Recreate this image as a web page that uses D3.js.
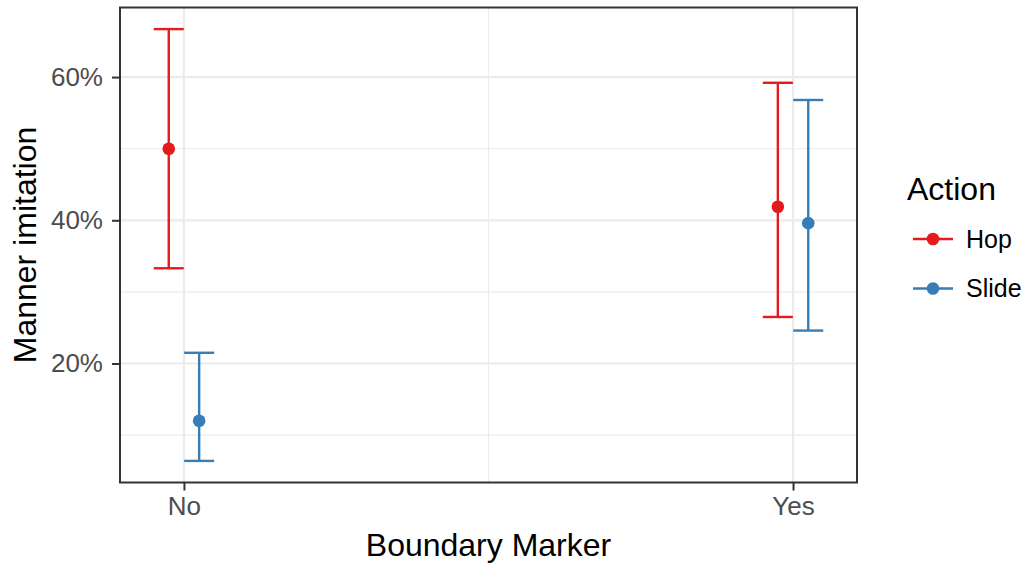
<!DOCTYPE html>
<html>
<head>
    <style>
        body { margin: 0; background: #fff; }
        text { font-family: "Liberation Sans", Helvetica, Arial, sans-serif; }
    </style>
    <script src="https://d3js.org/d3.v7.min.js"></script>
</head>
<body>
    <svg width="1028" height="564"></svg>
    <script>
        // data (percent)
        var markers = ["No", "Yes"];
        var actions = ["Hop", "Slide"];
        var meanHop = [50.0, 41.9];
        var meanSlide = [12.0, 39.6];
        var lowHop = [33.3, 26.5];
        var lowSlide = [6.4, 24.6];
        var highHop = [66.7, 59.2];
        var highSlide = [21.5, 56.8];
        var yTicks = [20, 40, 60];
        var yMinor = [10, 30, 50];
        var colors = ["#E41A1C", "#377EB8"];

        var rows = [];
        markers.forEach(function (m, i) {
            rows.push({ marker: m, action: "Hop", mean: meanHop[i], lo: lowHop[i], hi: highHop[i] });
            rows.push({ marker: m, action: "Slide", mean: meanSlide[i], lo: lowSlide[i], hi: highSlide[i] });
        });

        var panel = { left: 120, right: 857, top: 7.5, bottom: 482.5 };
        var svg = d3.select("svg");

        var x = d3.scalePoint().domain(markers).range([panel.left, panel.right]).padding(0.105);
        var dodge = d3.scalePoint().domain(actions).range([-15.2, 15.2]);
        var color = d3.scaleOrdinal().domain(actions).range(colors);

        var lo = d3.min(rows, function (d) { return d.lo; });
        var hi = d3.max(rows, function (d) { return d.hi; });
        var pad = (hi - lo) * 0.05;
        var y = d3.scaleLinear().domain([lo - pad, hi + pad]).range([panel.bottom, panel.top]);

        // grid
        var grid = svg.append("g");
        grid.selectAll(".minor").data(yMinor).enter().append("line")
            .attr("x1", panel.left).attr("x2", panel.right)
            .attr("y1", function (d) { return y(d); }).attr("y2", function (d) { return y(d); })
            .attr("stroke", "#EBEBEB").attr("stroke-width", 1.1);
        grid.append("line")
            .attr("x1", (x("No") + x("Yes")) / 2).attr("x2", (x("No") + x("Yes")) / 2)
            .attr("y1", panel.top).attr("y2", panel.bottom)
            .attr("stroke", "#EBEBEB").attr("stroke-width", 1.1);
        grid.selectAll(".major").data(yTicks).enter().append("line")
            .attr("x1", panel.left).attr("x2", panel.right)
            .attr("y1", function (d) { return y(d); }).attr("y2", function (d) { return y(d); })
            .attr("stroke", "#EBEBEB").attr("stroke-width", 2.2);
        grid.selectAll(".majorx").data(markers).enter().append("line")
            .attr("x1", function (d) { return x(d); }).attr("x2", function (d) { return x(d); })
            .attr("y1", panel.top).attr("y2", panel.bottom)
            .attr("stroke", "#EBEBEB").attr("stroke-width", 2.2);

        // error bars
        var bars = svg.append("g").selectAll("g").data(rows).enter().append("g")
            .attr("transform", function (d) { return "translate(" + (x(d.marker) + dodge(d.action)) + ",0)"; })
            .attr("stroke", function (d) { return color(d.action); })
            .attr("fill", function (d) { return color(d.action); });
        bars.append("line")
            .attr("y1", function (d) { return y(d.lo); }).attr("y2", function (d) { return y(d.hi); })
            .attr("stroke-width", 2.4);
        bars.append("line")
            .attr("x1", -15).attr("x2", 15)
            .attr("y1", function (d) { return y(d.lo); }).attr("y2", function (d) { return y(d.lo); })
            .attr("stroke-width", 2.4);
        bars.append("line")
            .attr("x1", -15).attr("x2", 15)
            .attr("y1", function (d) { return y(d.hi); }).attr("y2", function (d) { return y(d.hi); })
            .attr("stroke-width", 2.4);
        bars.append("circle")
            .attr("cy", function (d) { return y(d.mean); })
            .attr("r", 6.3).attr("stroke", "none");

        // panel border
        svg.append("rect")
            .attr("x", panel.left).attr("y", panel.top)
            .attr("width", panel.right - panel.left).attr("height", panel.bottom - panel.top)
            .attr("fill", "none").attr("stroke", "#333333").attr("stroke-width", 2);

        // axes
        var yAxis = svg.append("g")
            .attr("transform", "translate(" + panel.left + ",0)")
            .call(d3.axisLeft(y).tickValues(yTicks).tickSize(8).tickPadding(9)
                .tickFormat(function (d) { return d + "%"; }));
        var xAxis = svg.append("g")
            .attr("transform", "translate(0," + panel.bottom + ")")
            .call(d3.axisBottom(x).tickSize(8).tickPadding(6));
        [yAxis, xAxis].forEach(function (a) {
            a.select(".domain").remove();
            a.selectAll(".tick line").attr("stroke", "#333333").attr("stroke-width", 2);
            a.selectAll(".tick text").attr("fill", "#4D4D4D").attr("font-size", 26)
                .attr("font-family", "Liberation Sans, Helvetica, Arial, sans-serif");
        });

        svg.append("text")
            .attr("x", (panel.left + panel.right) / 2).attr("y", 556)
            .attr("text-anchor", "middle").attr("font-size", 32).attr("fill", "#000")
            .text("Boundary Marker");
        svg.append("text")
            .attr("transform", "translate(36," + (panel.top + panel.bottom) / 2 + ") rotate(-90)")
            .attr("text-anchor", "middle").attr("font-size", 32).attr("fill", "#000")
            .text("Manner imitation");

        // legend
        var legend = svg.append("g");
        legend.append("text").attr("x", 907).attr("y", 200)
            .attr("font-size", 32).attr("fill", "#000").text("Action");
        var items = legend.selectAll(".item").data(actions).enter().append("g")
            .attr("transform", function (d, i) { return "translate(0," + (239 + i * 49.5) + ")"; });
        items.append("line").attr("x1", 913).attr("x2", 953)
            .attr("stroke", function (d) { return color(d); }).attr("stroke-width", 2.4);
        items.append("circle").attr("cx", 933).attr("r", 6.3)
            .attr("fill", function (d) { return color(d); });
        items.append("text").attr("x", 966).attr("dy", "0.35em")
            .attr("font-size", 25).attr("fill", "#000").text(function (d) { return d; });
    </script>
</body>
</html>
